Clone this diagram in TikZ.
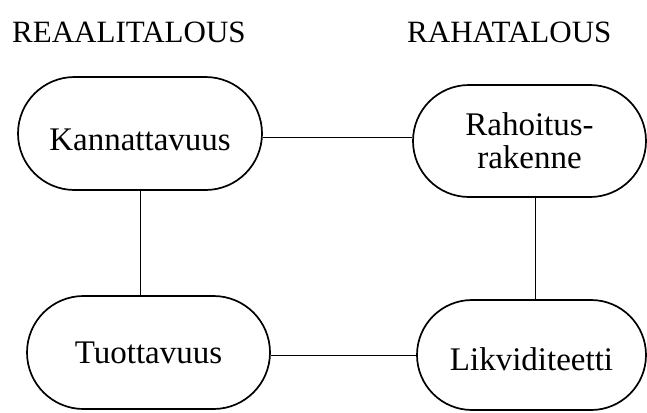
\documentclass[tikz,border=0pt]{standalone}
\usepackage{fontspec}
\setmainfont{Liberation Serif}
\usetikzlibrary{shapes.misc}
\begin{document}
\begin{tikzpicture}[x=1pt,y=-1pt,
  oval/.style={rounded rectangle, draw, line width=1.7pt, inner sep=0pt,
    font=\fontsize{33}{33}\selectfont, text depth=0pt},
  title/.style={anchor=base west, inner sep=0pt, font=\fontsize{31}{31}\selectfont},
  link/.style={line width=0.8pt}]
\useasboundingbox (0,0) rectangle (647,412);
\node[title] (t1) at (12,42) {REAALITALOUS};
\node[title] (t2) at (407,42) {RAHATALOUS};
\node[oval, minimum width=244pt, minimum height=113pt, text height=33pt] (K) at (140,133.5) {Kannattavuus};
\node[oval, minimum width=233pt, minimum height=112pt, align=center, text depth=] (R) at (529.5,141) {Rahoitus-\\rakenne};
\node[oval, minimum width=243pt, minimum height=113pt, text height=21pt] (T) at (148.5,352.5) {Tuottavuus};
\node[oval, minimum width=229pt, minimum height=110pt, text height=30pt] (L) at (531.5,355) {Likviditeetti};
\draw[link] ([yshift=-3.5pt]K.east) -- ([yshift=-3.5pt]K.east -| R.west);
\draw[link] ([yshift=-2.5pt]T.east) -- ([yshift=-2.5pt]T.east -| L.west);
\draw[link] (K.south) -- (K.south |- T.north);
\draw[link] ([xshift=6pt]R.south) -- ([xshift=6pt]R.south |- L.north);
\end{tikzpicture}
\end{document}
